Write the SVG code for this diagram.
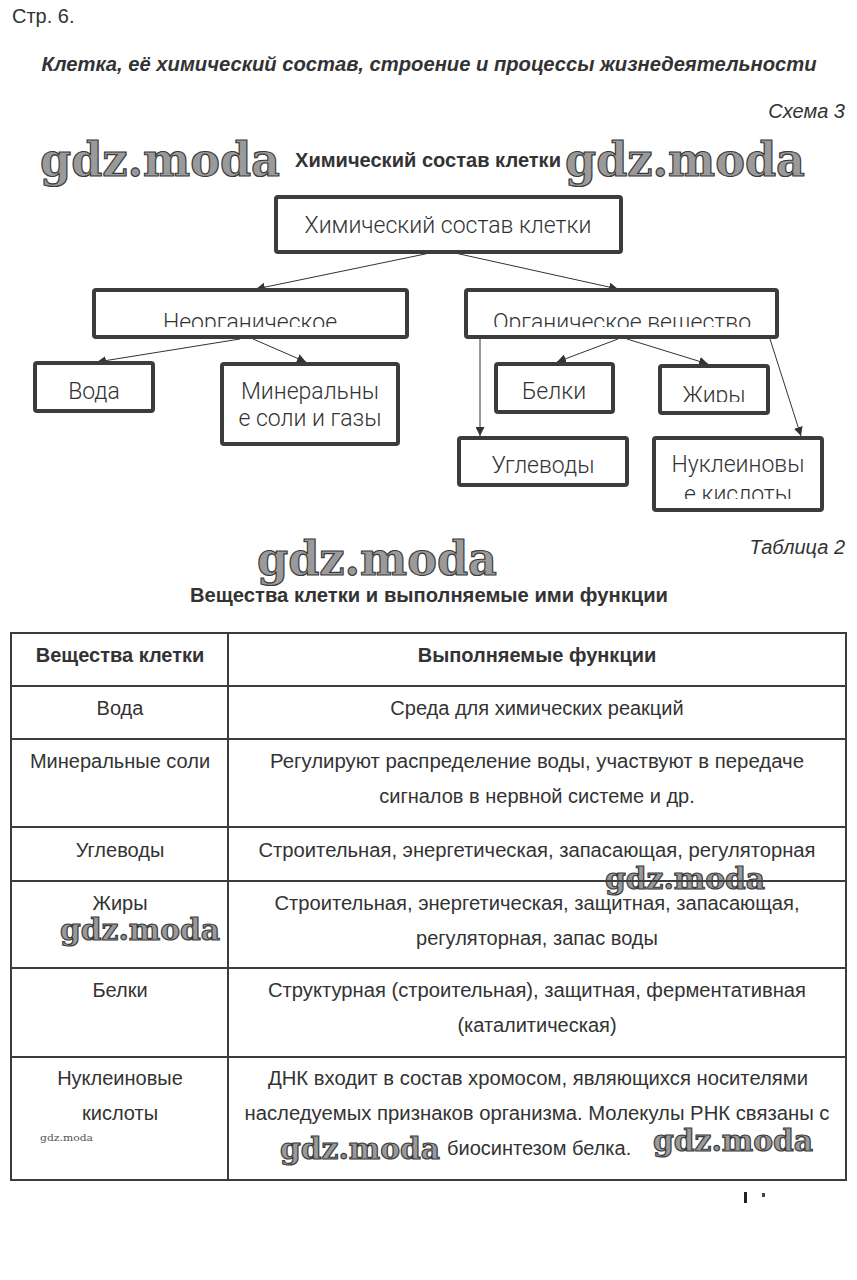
<svg xmlns="http://www.w3.org/2000/svg" width="857" height="1280" viewBox="0 0 857 1280">
<defs>
<style>
.t{font-family:"Liberation Sans",Arial,sans-serif;font-size:20px;fill:#333}
.b{font-weight:bold}
.i{font-style:italic}
.bx{fill:#fff;stroke:#3c3c3c;stroke-width:4}
.bt{font-family:Roboto,"Open Sans",sans-serif;font-weight:300;font-size:23px;fill:#333;text-anchor:middle}
.c{stroke:#333;stroke-width:1;fill:none;marker-end:url(#ah)}
.wm{font-family:"DejaVu Serif",serif;font-weight:bold;fill:#9a9a9a;stroke:#3a3a3a;stroke-width:1.2}
.tl{stroke:#3c3c3c;stroke-width:2;fill:none}
.m{text-anchor:middle}
</style>
<marker id="ah" viewBox="0 0 10 10" refX="10" refY="5" markerWidth="9" markerHeight="9" orient="auto" markerUnits="userSpaceOnUse">
<path d="M0,0 L10,5 L0,10 z" fill="#333"/>
</marker>
<clipPath id="cN"><rect x="95" y="292" width="310" height="35"/></clipPath>
<clipPath id="cO"><rect x="467" y="292" width="309" height="35"/></clipPath>
<clipPath id="cZ"><rect x="661" y="367" width="105" height="35"/></clipPath>
<clipPath id="cK"><rect x="655" y="439" width="165" height="60"/></clipPath>
</defs>
<rect width="857" height="1280" fill="#fff"/>

<g id="header">
<text class="t" x="12" y="23" font-size="17">Стр. 6.</text>
<text class="t b i m" x="429" y="71" font-size="18" textLength="775" lengthAdjust="spacingAndGlyphs">Клетка, её химический состав, строение и процессы жизнедеятельности</text>
<text class="t i" x="845" y="118" font-size="17" fill="#555" text-anchor="end">Схема 3</text>
<text class="t b" x="295" y="167" font-size="17" textLength="266" lengthAdjust="spacingAndGlyphs">Химический состав клетки</text>
</g>

<g id="watermarks">
<text class="wm" x="40" y="176" font-size="46" textLength="240" lengthAdjust="spacingAndGlyphs">gdz.moda</text>
<text class="wm" x="565" y="176" font-size="46" textLength="240" lengthAdjust="spacingAndGlyphs">gdz.moda</text>
<text class="wm" x="257" y="575" font-size="46" textLength="240" lengthAdjust="spacingAndGlyphs">gdz.moda</text>
<text class="wm" x="605" y="889" font-size="30" textLength="160" lengthAdjust="spacingAndGlyphs">gdz.moda</text>
<text class="wm" x="60" y="940" font-size="30" textLength="160" lengthAdjust="spacingAndGlyphs">gdz.moda</text>
<text class="wm" x="280" y="1159" font-size="30" textLength="160" lengthAdjust="spacingAndGlyphs">gdz.moda</text>
<text class="wm" x="653" y="1151" font-size="30" textLength="160" lengthAdjust="spacingAndGlyphs">gdz.moda</text>
<text x="40" y="1141" font-family="DejaVu Serif,serif" font-size="10" fill="#555" textLength="53" lengthAdjust="spacingAndGlyphs">gdz.moda</text>
</g>

<g id="connectors">
<line class="c" x1="430" y1="253" x2="256" y2="289"/>
<line class="c" x1="455" y1="253" x2="618" y2="289"/>
<line class="c" x1="240" y1="339" x2="97" y2="362"/>
<line class="c" x1="253" y1="339" x2="306" y2="362"/>
<line class="c" x1="618" y1="339" x2="557" y2="362"/>
<line class="c" x1="627" y1="339" x2="708" y2="364"/>
<line class="c" x1="480" y1="339" x2="480" y2="436" stroke="#666" stroke-width="1.5"/>
<line class="c" x1="770" y1="339" x2="801" y2="436"/>
</g>

<g id="n-root">
<rect class="bx" x="276" y="197" width="345" height="55" rx="2"/>
<text class="bt" x="448" y="233">Химический состав клетки</text>
</g>
<g id="n-inorg">
<rect class="bx" x="94" y="290" width="313" height="47" rx="2"/>
<text class="bt" x="250" y="330" clip-path="url(#cN)">Неорганическое</text>
</g>
<g id="n-org">
<rect class="bx" x="466" y="290" width="311" height="47" rx="2"/>
<text class="bt" x="622" y="330" clip-path="url(#cO)">Органическое вещество</text>
</g>
<g id="n-water">
<rect class="bx" x="35" y="363" width="118" height="48" rx="2"/>
<text class="bt" x="94" y="399">Вода</text>
</g>
<g id="n-mineral">
<rect class="bx" x="222" y="364" width="176" height="80" rx="2"/>
<text class="bt" x="310" y="399">Минеральны</text>
<text class="bt" x="310" y="426">е соли и газы</text>
</g>
<g id="n-protein">
<rect class="bx" x="496" y="364" width="117" height="48" rx="2"/>
<text class="bt" x="554" y="399">Белки</text>
</g>
<g id="n-fat">
<rect class="bx" x="660" y="366" width="108" height="47" rx="2"/>
<text class="bt" x="714" y="403" clip-path="url(#cZ)">Жиры</text>
</g>
<g id="n-carb">
<rect class="bx" x="459" y="438" width="168" height="47" rx="2"/>
<text class="bt" x="543" y="473">Углеводы</text>
</g>
<g id="n-nucl">
<rect class="bx" x="654" y="438" width="168" height="72" rx="2"/>
<text class="bt" x="738" y="472">Нуклеиновы</text>
<text class="bt" x="738" y="502" clip-path="url(#cK)">е кислоты</text>
</g>

<g id="table-captions">
<text class="t i" x="845" y="554" font-size="17" fill="#555" text-anchor="end">Таблица 2</text>
<text class="t b m" x="429" y="602" font-size="17" textLength="478" lengthAdjust="spacingAndGlyphs">Вещества клетки и выполняемые ими функции</text>
</g>

<g id="table">
<rect class="tl" x="11" y="633" width="835" height="547"/>
<line class="tl" x1="228" y1="633" x2="228" y2="1180"/>
<line class="tl" x1="11" y1="686" x2="846" y2="686"/>
<line class="tl" x1="11" y1="739" x2="846" y2="739"/>
<line class="tl" x1="11" y1="827" x2="846" y2="827"/>
<line class="tl" x1="11" y1="881" x2="846" y2="881"/>
<line class="tl" x1="11" y1="968" x2="846" y2="968"/>
<line class="tl" x1="11" y1="1057" x2="846" y2="1057"/>
</g>

<g id="table-text">
<text class="t b m" x="120" y="662" font-size="19">Вещества клетки</text>
<text class="t b m" x="537" y="662" font-size="19">Выполняемые функции</text>
<text class="t m" x="120" y="715">Вода</text>
<text class="t m" x="537" y="715">Среда для химических реакций</text>
<text class="t m" x="120" y="768">Минеральные соли</text>
<text class="t m" x="537" y="768" textLength="534" lengthAdjust="spacingAndGlyphs">Регулируют распределение воды, участвуют в передаче</text>
<text class="t m" x="537" y="803">сигналов в нервной системе и др.</text>
<text class="t m" x="120" y="857">Углеводы</text>
<text class="t m" x="537" y="857" textLength="557" lengthAdjust="spacingAndGlyphs">Строительная, энергетическая, запасающая, регуляторная</text>
<text class="t m" x="120" y="910">Жиры</text>
<text class="t m" x="537" y="910" textLength="525" lengthAdjust="spacingAndGlyphs">Строительная, энергетическая, защитная, запасающая,</text>
<text class="t m" x="537" y="945">регуляторная, запас воды</text>
<text class="t m" x="120" y="997">Белки</text>
<text class="t m" x="537" y="997" textLength="538" lengthAdjust="spacingAndGlyphs">Структурная (строительная), защитная, ферментативная</text>
<text class="t m" x="537" y="1032">(каталитическая)</text>
<text class="t m" x="120" y="1085">Нуклеиновые</text>
<text class="t m" x="120" y="1120">кислоты</text>
<text class="t m" x="538" y="1085" textLength="540" lengthAdjust="spacingAndGlyphs">ДНК входит в состав хромосом, являющихся носителями</text>
<text class="t m" x="537" y="1120" textLength="585" lengthAdjust="spacingAndGlyphs">наследуемых признаков организма. Молекулы РНК связаны с</text>
<text class="t" x="447" y="1155">биосинтезом белка.</text>
</g>

<g id="marks">
<rect x="744" y="1192" width="3" height="11" fill="#222"/>
<rect x="762" y="1193" width="3" height="4" fill="#444"/>
</g>
</svg>
